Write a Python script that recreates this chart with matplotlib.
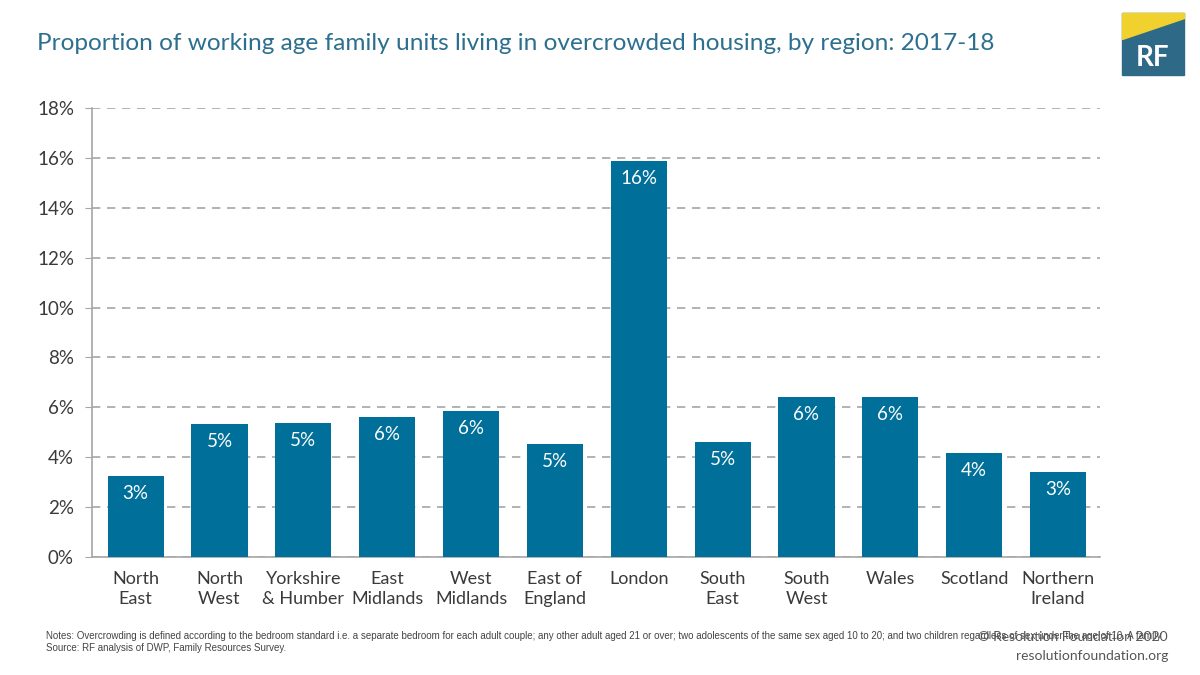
import matplotlib
matplotlib.use("Agg")
import matplotlib.pyplot as plt
from matplotlib.patches import Polygon, Rectangle

regions = ["North\nEast", "North\nWest", "Yorkshire\n& Humber", "East\nMidlands", "West\nMidlands",
           "East of\nEngland", "London", "South\nEast", "South\nWest", "Wales", "Scotland", "Northern\nIreland"]
values = [3.25, 5.33, 5.37, 5.61, 5.85, 4.52, 15.88, 4.61, 6.42, 6.42, 4.17, 3.41]
labels = ["3%", "5%", "5%", "6%", "6%", "5%", "16%", "5%", "6%", "6%", "4%", "3%"]
yticks = [0, 2, 4, 6, 8, 10, 12, 14, 16, 18]

plt.rcParams['font.family'] = ['Lato', 'DejaVu Sans']

fig = plt.figure(figsize=(12, 6.75), dpi=100)
ax = fig.add_axes([92/1200, 1 - 557/675, (1100-92)/1200, (557-108)/675])

bar_color = "#00709a"
x = list(range(len(regions)))
ax.bar(x, values, width=0.67, color=bar_color, zorder=3)
for xi, v, lab in zip(x, values, labels):
    ax.annotate(lab, (xi, v), xytext=(0, -12.5), textcoords="offset points",
                ha="center", va="center", color="white", fontsize=13.5)

ax.set_xlim(-0.52, 11.5)
ax.set_ylim(0, 18)
ax.set_yticks(yticks)
ax.set_yticklabels([f"{t}%" for t in yticks], fontsize=13.5, color="#3a3a3a")
ax.set_xticks(x)
ax.set_xticklabels(regions, fontsize=13, color="#3a3a3a", linespacing=1.35)
ax.tick_params(axis="x", length=0, pad=10)
ax.tick_params(axis="y", length=5, color="#a6a6a6", pad=8)
ax.yaxis.grid(True, linestyle=(0, (5, 4)), color="#a6a6a6", linewidth=1.2, zorder=0)
for s in ["top", "right"]:
    ax.spines[s].set_visible(False)
for s in ["left", "bottom"]:
    ax.spines[s].set_color("#a6a6a6")
    ax.spines[s].set_linewidth(1.2)

fig.text(37/1200, 1 - 44/675, "Proportion of working age family units living in overcrowded housing, by region: 2017-18",
         fontsize=17.6, color="#2c6f8f", va="center", ha="left")

# logo
lx0, ly0, lw = 1122/1200, 1 - 75/675, 62
w = lw/1200
h = lw/675
fig.patches.append(Rectangle((lx0, ly0), w, h, transform=fig.transFigure, color="#2e6a88", zorder=5))
fig.patches.append(Polygon([(lx0, ly0 + h*0.58), (lx0, ly0 + h), (lx0 + w, ly0 + h), (lx0 + w, ly0 + h*0.92)],
                           transform=fig.transFigure, color="#f0d12e", zorder=6))
fig.text(lx0 + w/2, ly0 + h*0.28, "RF", color="white", fontsize=20, fontweight="bold",
         ha="center", va="center", zorder=7)

fig.text(46/1200, 1 - 636/675,
         "Notes: Overcrowding is defined according to the bedroom standard i.e. a separate bedroom for each adult couple; any other adult aged 21 or over; two adolescents of the same sex aged 10 to 20; and two children regardless of sex under the age of 10. A family",
         fontsize=7.0, color="#444444", va="center", ha="left", family=["Liberation Sans", "DejaVu Sans"])
fig.text(46/1200, 1 - 648/675, "Source: RF analysis of DWP, Family Resources Survey.",
         fontsize=7.0, color="#444444", va="center", ha="left", family=["Liberation Sans", "DejaVu Sans"])
fig.text(1168/1200, 1 - 637/675, "© Resolution Foundation 2020", fontsize=10, color="#555555", ha="right", va="center")
fig.text(1168/1200, 1 - 656/675, "resolutionfoundation.org", fontsize=10, color="#555555", ha="right", va="center")

fig.savefig("out.png", dpi=100)
